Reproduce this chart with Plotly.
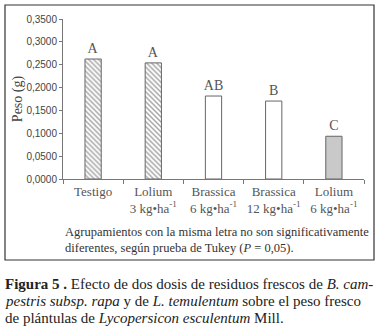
import plotly.graph_objects as go

categories = ["Testigo", "Lolium<br>3 kg•ha<sup>-1</sup>", "Brassica<br>6 kg•ha<sup>-1</sup>",
              "Brassica<br>12 kg•ha<sup>-1</sup>", "Lolium<br>6 kg•ha<sup>-1</sup>"]
peso = [0.2625, 0.2540, 0.1815, 0.1705, 0.0935]
letters = ["A", "A", "AB", "B", "C"]
y_ticks = [0.0, 0.05, 0.10, 0.15, 0.20, 0.25, 0.30, 0.35]

SERIF = "Liberation Serif, Times New Roman, serif"
SANS = "Liberation Sans, Arial, sans-serif"

# plot area in pixels
L, R, T, B = 63, 364, 19, 179
W, H = R - L, B - T
def px(x): return (x - L) / W
def py(y): return (B - y) / H

fills = ["white", "white", "white", "white", "#c9c9c9"]
shapes_pat = ["\\", "\\", "", "", ""]

fig = go.Figure()
fig.add_trace(go.Bar(
    x=categories, y=peso, width=0.27,
    text=letters, textposition="outside", cliponaxis=False, constraintext="none",
    textfont=dict(family=SERIF, size=14, color="#555"),
    marker=dict(color=fills, line=dict(color="#666", width=1),
                pattern=dict(shape=shapes_pat, fgcolor="#555", bgcolor="white",
                             size=3.5, solidity=0.4)),
    showlegend=False, hoverinfo="skip",
))

fig.update_layout(
    width=382, height=334,
    margin=dict(l=L, r=382 - R, t=T, b=334 - B),
    paper_bgcolor="white", plot_bgcolor="white",
    separators=",.",
    xaxis=dict(type="category", tickson="boundaries", ticks="outside", ticklen=4,
               tickcolor="#777", showline=True, linecolor="#777", linewidth=1,
               showgrid=False, tickangle=0, automargin=False,
               tickfont=dict(family=SERIF, size=13, color="#555")),
    yaxis=dict(range=[0, 0.35], tickvals=y_ticks, tickformat=".4f", ticks="outside",
               ticklen=3, tickcolor="#777", showline=True, linecolor="#777",
               linewidth=1, showgrid=False, zeroline=False, automargin=False,
               tickfont=dict(family=SANS, size=10, color="#444"),
               title=dict(text="Peso (g)", standoff=0,
                          font=dict(family=SERIF, size=14, color="#444"))),
)

# frame
fig.add_shape(type="rect", xref="paper", yref="paper",
              x0=px(5), x1=px(374), y0=py(260), y1=py(5),
              line=dict(color="#333", width=1.2))

fig.add_annotation(
    text="Agrupamientos con la misma letra no son significativamente<br>"
         "diferentes, según prueba de Tukey (<i>P</i> = 0,05).",
    xref="paper", yref="paper", x=px(63), y=py(239.5), xanchor="left", yanchor="middle",
    align="left", showarrow=False, font=dict(family=SERIF, size=12.5, color="#333"))

caption = [
    "<b>Figura 5 .</b> Efecto de dos dosis de residuos frescos de <i>B. cam-</i>",
    "<i>pestris subsp. rapa</i> y de <i>L. temulentum</i> sobre el peso fresco",
    "de plántulas de <i>Lycopersicon esculentum</i> Mill.",
]
for line, yc in zip(caption, [284, 301, 318]):
    fig.add_annotation(text=line, xref="paper", yref="paper", x=px(3), y=py(yc),
                       xanchor="left", yanchor="middle", align="left", showarrow=False,
                       font=dict(family=SERIF, size=15, color="#222"))

fig.write_html("out.html", config={"displayModeBar": False},
               post_script="document.body.style.margin='0';")
